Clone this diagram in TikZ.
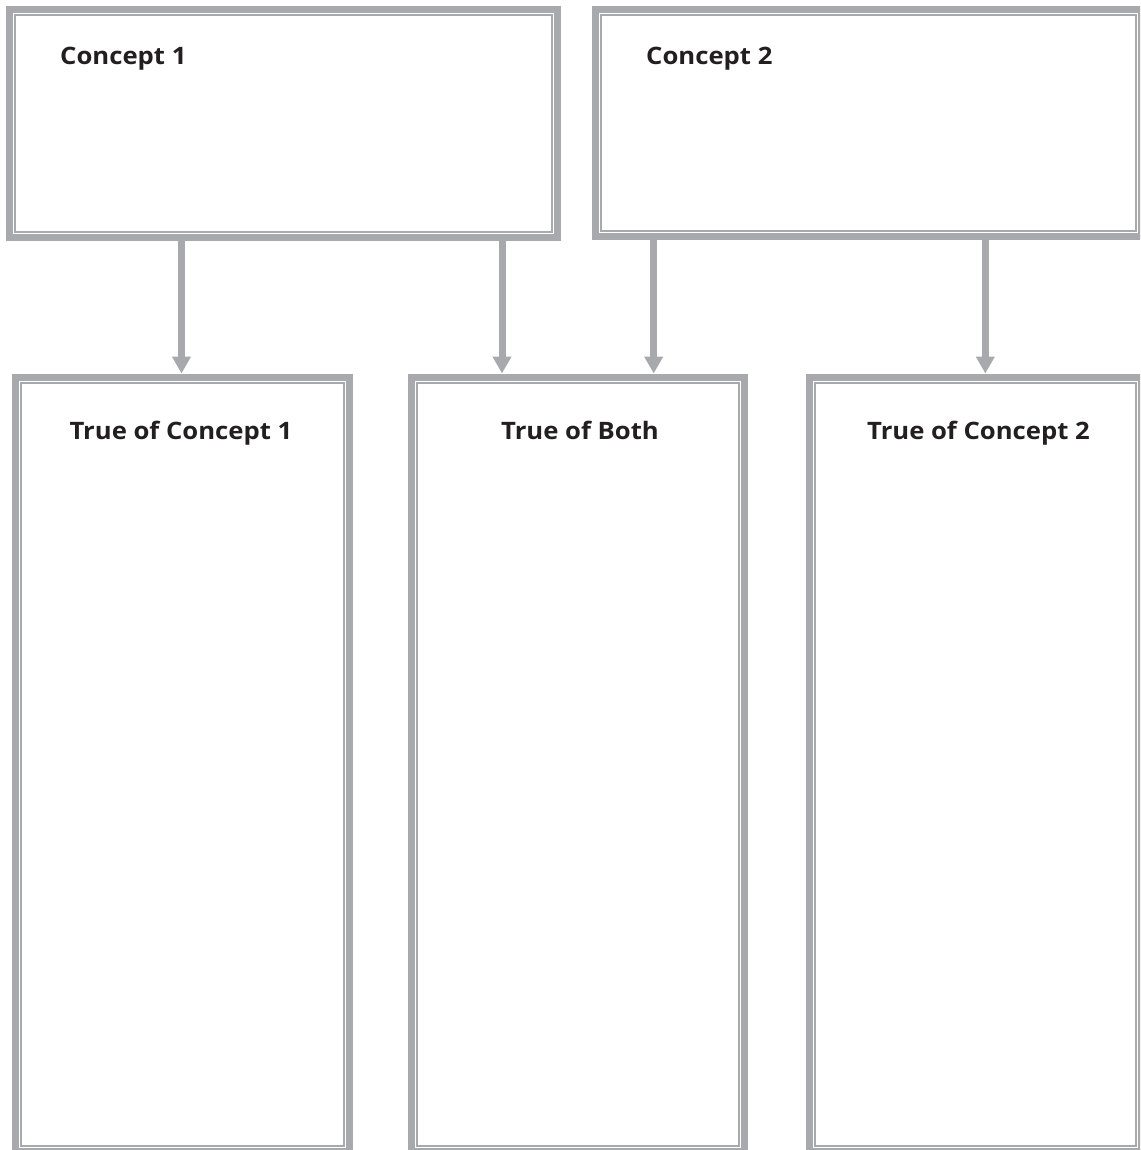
\documentclass[tikz,border=0pt]{standalone}
\usepackage{fontspec}
\setmainfont{Open Sans}[FakeStretch=1.07]
\usetikzlibrary{arrows.meta}
\definecolor{framegray}{RGB}{167,169,172}
\definecolor{txt}{RGB}{35,31,32}
\begin{document}
\begin{tikzpicture}[x=1pt,y=-1pt,
  outerbox/.style={draw=framegray, line width=7pt, rectangle, inner sep=0pt},
  innerline/.style={draw=framegray, line width=2pt},
  conn/.style={draw=framegray, line width=7pt, -{Triangle[width=18pt,length=17pt]}},
  label/.style={font=\bfseries\fontsize{24}{28}\selectfont, text=txt, inner sep=0pt, anchor=base}
]
\useasboundingbox (0,0) rectangle (1140,1150);
\clip (0,0) rectangle (1140,1150);
% boxes
\node[outerbox, minimum width=548pt, minimum height=227.7pt] (c1) at (283.5,123.2) {};
\node[outerbox, minimum width=546.5pt, minimum height=227pt] (c2) at (868.25,123.5) {};
\node[outerbox, minimum width=334pt, minimum height=774.5pt] (b1) at (182,764.25) {};
\node[outerbox, minimum width=333.5pt, minimum height=774.5pt] (b2) at (577.75,764.25) {};
\node[outerbox, minimum width=332pt, minimum height=774.5pt] (b3) at (975.5,764.25) {};
% inner lines
\foreach \n in {c1,c2,b1,b2,b3}{
  \draw[innerline] ([shift={(9pt,-9pt)}]\n.north west) rectangle ([shift={(-9pt,9pt)}]\n.south east);
}
% labels
\node[label, anchor=base west] (l1) at (60,65) {Concept 1};
\node[label, anchor=base west] (l2) at (646,65) {Concept 2};
\node[label] (l3) at (181,439.5) {True of Concept 1};
\node[label] (l4) at (580,439.5) {True of Both};
\node[label] (l5) at (978.5,439.5) {True of Concept 2};
% arrow anchor points
\coordinate (t1) at (181.5,0);
\coordinate (t2) at (502,0);
\coordinate (t3) at (653.7,0);
\coordinate (t4) at (985.3,0);
\draw[conn] (c1.south -| t1) -- (b1.north -| t1);
\draw[conn] (c1.south -| t2) -- (b2.north -| t2);
\draw[conn] (c2.south -| t3) -- (b2.north -| t3);
\draw[conn] (c2.south -| t4) -- (b3.north -| t4);
\end{tikzpicture}
\end{document}
